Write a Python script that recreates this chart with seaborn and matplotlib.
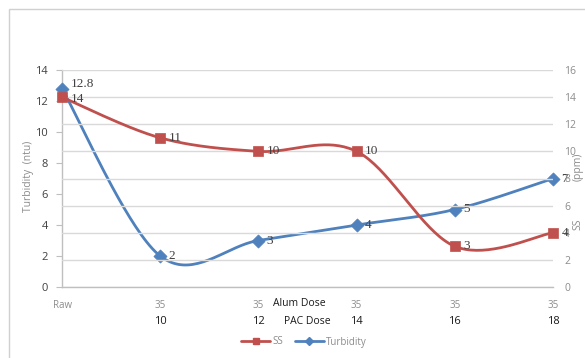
import numpy as np
import pandas as pd
import matplotlib
matplotlib.use("Agg")
import matplotlib.pyplot as plt
from matplotlib.lines import Line2D
from matplotlib.patches import Rectangle
import matplotlib.transforms as mtransforms
import seaborn as sns

# --- data -------------------------------------------------------------
alum_dose = ["Raw", "35", "35", "35", "35", "35"]
pac_dose = ["", "10", "12", "14", "16", "18"]
ss_values = [14, 11, 10, 10, 3, 4]              # SS (ppm), right axis
turbidity_values = [12.8, 2, 3, 4, 5, 7]        # Turbidity (ntu), left axis

RED = "#c0504d"
BLUE = "#4f81bd"
GRID = "#d9d9d9"
TICK_GRAY = "#8c8c8c"
DARK = "#404040"

sns.set_theme(style="white")
plt.rcParams["font.family"] = ["Open Sans", "DejaVu Sans"]


def smooth_curve(ys, samples=40):
    """Catmull-Rom style cubic Bezier smoothing (in x and y) through evenly spaced points."""
    ys = np.asarray(ys, dtype=float)
    xs = np.arange(len(ys), dtype=float)
    n = len(ys)
    t = np.linspace(0, 1, samples)
    px, py = [], []
    for i in range(n - 1):
        i0 = max(i - 1, 0)
        i3 = min(i + 2, n - 1)
        p0 = np.array([xs[i0], ys[i0]])
        p1 = np.array([xs[i], ys[i]])
        p2 = np.array([xs[i + 1], ys[i + 1]])
        p3 = np.array([xs[i3], ys[i3]])
        c1 = p1 + (p2 - p0) / 6.0
        c2 = p2 - (p3 - p1) / 6.0
        b = (((1 - t) ** 3)[:, None] * p1 + (3 * (1 - t) ** 2 * t)[:, None] * c1
             + (3 * (1 - t) * t ** 2)[:, None] * c2 + (t ** 3)[:, None] * p2)
        if i < n - 2:
            b = b[:-1]
        px.extend(b[:, 0])
        py.extend(b[:, 1])
    return pd.DataFrame({"x": px, "y": py})


W, H = 585, 358
fig = plt.figure(figsize=(W / 100, H / 100), dpi=100)
fig.patch.set_facecolor("white")

# outer chart frame
fig.patches.append(Rectangle((9 / W, -0.1), 1.2, 1 - 9 / H + 0.1,
                             transform=fig.transFigure, fill=False,
                             edgecolor="#d0d0d0", lw=1.0))

ax = fig.add_axes([62 / W, 71 / H, (553 - 62) / W, (287 - 70) / H])
ax2 = ax.twinx()

pts = pd.DataFrame({"x": np.arange(len(ss_values)),
                    "ss": ss_values, "turb": turbidity_values})

# gridlines follow the secondary (SS) axis
ax2.set_ylim(0, 16)
ax2.set_yticks(np.arange(0, 17, 2))
ax2.yaxis.grid(True, color=GRID, lw=1.0)
ax2.set_axisbelow(True)
ax.set_ylim(0, 14)
ax.set_yticks(np.arange(0, 15, 2))
ax.set_xlim(0, 5)

# turbidity curve on the primary axis
turb_curve = smooth_curve(turbidity_values)
sns.lineplot(data=turb_curve, x="x", y="y", ax=ax, color=BLUE, lw=2.0,
             sort=False, legend=False, zorder=3)
sns.scatterplot(data=pts, x="x", y="turb", ax=ax, color=BLUE, marker="D",
                s=45, edgecolor=BLUE, linewidth=0.5, zorder=4, clip_on=False,
                legend=False)

# SS curve on the secondary axis
ss_curve = smooth_curve(ss_values)
sns.lineplot(data=ss_curve, x="x", y="y", ax=ax2, color=RED, lw=2.0,
             sort=False, legend=False, zorder=3)
sns.scatterplot(data=pts, x="x", y="ss", ax=ax2, color=RED, marker="s",
                s=60, edgecolor=RED, linewidth=0.5, zorder=4, clip_on=False,
                legend=False)

# value labels
label_font = dict(family=["Liberation Serif", "DejaVu Serif"], fontsize=9.5, color=DARK)
for i, v in enumerate(turbidity_values):
    dy = 3 if i == 0 else 0
    ax.annotate(f"{v:g}", (i, v), xytext=(6, dy), textcoords="offset points",
                ha="left", va="center", annotation_clip=False, zorder=6, **label_font)
for i, v in enumerate(ss_values):
    dy = -1 if i == 0 else 0
    ax2.annotate(f"{v:g}", (i, v), xytext=(6, dy), textcoords="offset points",
                 ha="left", va="center", annotation_clip=False, zorder=6, **label_font)

# axes styling
for a in (ax, ax2):
    for side in ("top", "right"):
        a.spines[side].set_visible(False)
    a.set_xlabel("")
    a.set_ylabel("")
ax2.spines["left"].set_visible(False)
ax2.spines["bottom"].set_visible(False)
ax.spines["left"].set_color("#bfbfbf")
ax.spines["bottom"].set_color("#bfbfbf")
ax.spines["left"].set_linewidth(1.0)
ax.spines["bottom"].set_linewidth(1.0)

ax.tick_params(axis="y", which="both", left=True, length=4, width=0.8,
               color="#bfbfbf", labelsize=8, labelcolor=DARK, pad=6)
ax2.tick_params(axis="y", which="both", right=False, length=0,
                labelsize=7.5, labelcolor=TICK_GRAY, pad=8)

ax.set_xticks(range(len(alum_dose)))
ax.set_xticklabels(alum_dose, fontsize=7, color=TICK_GRAY)
ax.tick_params(axis="x", length=0, pad=9)

# second row of category labels (PAC dose)
trans = mtransforms.blended_transform_factory(ax.transData, fig.transFigure)
for i, lab in enumerate(pac_dose):
    if lab:
        ax.text(i, 1 - 321 / H, lab, transform=trans, ha="center", va="center",
                fontsize=8, color="#1a1a1a")
fig.text(299 / W, 1 - 304 / H, "Alum Dose", ha="center", va="center",
         fontsize=7.5, color="#1a1a1a")
fig.text(307 / W, 1 - 321 / H, "PAC Dose", ha="center", va="center",
         fontsize=7.5, color="#1a1a1a")

# axis titles
fig.text(29 / W, 1 - 176 / H, "Turbidity  (ntu)", rotation=90, ha="center",
         va="center", fontsize=7.5, color=TICK_GRAY)
fig.text(578 / W, 1 - 167 / H, "(ppm)", rotation=90, ha="center",
         va="center", fontsize=7.5, color=TICK_GRAY)
fig.text(578 / W, 1 - 224 / H, "SS", rotation=90, ha="center",
         va="center", fontsize=7.5, color=TICK_GRAY)

# legend
handles = [Line2D([], [], color=RED, lw=2, marker="s", ms=5, label="SS"),
           Line2D([], [], color=BLUE, lw=2, marker="D", ms=4.5, label="Turbidity")]
leg = fig.legend(handles=handles, loc="center", bbox_to_anchor=(304 / W, 1 - 342 / H),
                 ncol=2, frameon=False, fontsize=7, handlelength=3.0,
                 columnspacing=1.2, handletextpad=0.2)
for t in leg.get_texts():
    t.set_color(TICK_GRAY)

fig.savefig("out.png", dpi=100, facecolor="white")
